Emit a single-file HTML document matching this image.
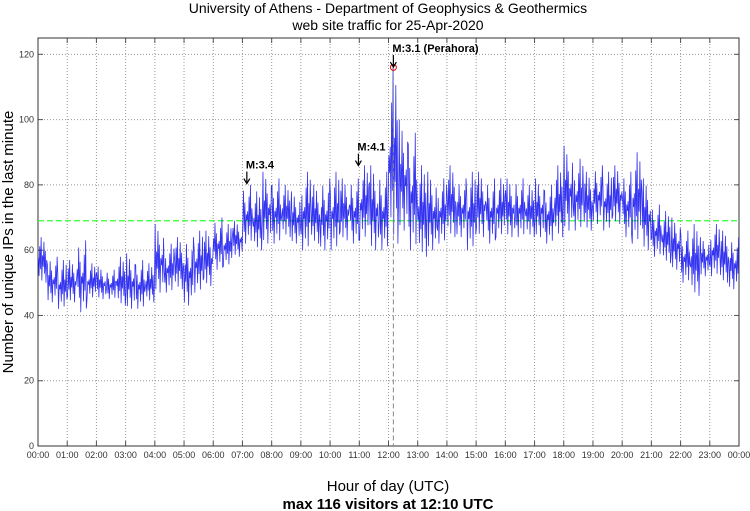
<!DOCTYPE html>
<html><head><meta charset="utf-8"><style>
body{margin:0;background:#fff;font-family:"Liberation Sans",sans-serif}
svg{display:block}
</style></head><body>
<svg id="chart" width="750" height="511" viewBox="0 0 750 511" xmlns="http://www.w3.org/2000/svg">
<text x="388" y="13" font-size="14" text-anchor="middle" font-family="Liberation Sans, sans-serif">University of Athens - Department of Geophysics &amp; Geothermics</text>
<text x="388" y="30" font-size="14" text-anchor="middle" font-family="Liberation Sans, sans-serif">web site traffic for 25-Apr-2020</text>
<text x="388" y="491" font-size="15" text-anchor="middle" font-family="Liberation Sans, sans-serif">Hour of day (UTC)</text>
<text x="388" y="509" font-size="15" font-weight="bold" text-anchor="middle" font-family="Liberation Sans, sans-serif">max 116 visitors at 12:10 UTC</text>
<text transform="translate(13,242) rotate(-90)" font-size="15" text-anchor="middle" font-family="Liberation Sans, sans-serif">Number of unique IPs in the last minute</text>
<g id="grid"></g><g id="series"></g><g id="annot"></g>
</svg>
<script>
const yTicks=[0,20,40,60,80,100,120];
const hourLabels=["00:00","01:00","02:00","03:00","04:00","05:00","06:00","07:00","08:00","09:00","10:00","11:00","12:00","13:00","14:00","15:00","16:00","17:00","18:00","19:00","20:00","21:00","22:00","23:00","00:00"];
// 20-minute buckets: high and low values
const bucketHigh=[64,58,57,57,63,56,55,54,58,59,57,56,68,62,64,64,66,66,70,68,69,80,78,84,82,80,78,84,80,82,84,82,82,86,86,84,116,100,96,86,84,82,86,82,84,84,82,82,82,82,80,82,80,86,92,88,84,86,84,86,84,90,82,74,72,70,66,68,64,68,66,64];
const bucketLow=[50,44,42,44,41,45,45,45,43,42,42,44,47,47,48,43,47,49,54,55,58,62,60,62,62,64,62,60,62,60,60,63,62,63,60,60,62,66,60,58,60,62,64,64,60,64,62,64,64,64,64,64,62,64,66,66,66,68,66,68,64,62,60,58,56,54,50,46,52,52,50,48];
const meanValue=69;
const peakValue=116, peakHour=12+10/60;
const events=[{label:"M:3.4",hour:7.15,labelY:85},{label:"M:4.1",hour:10.97,labelY:90.5},{label:"M:3.1 (Perahora)",hour:peakHour,labelY:120.7}];
const X0=38,X1=739,Y0=446,YMAX=125,YT=38;
const xs=h=>X0+h/24*(X1-X0);
const ys=v=>Y0-v/YMAX*(Y0-YT);
const NS="http://www.w3.org/2000/svg";
function mk(tag,attrs,parent){const e=document.createElementNS(NS,tag);for(const k in attrs)e.setAttribute(k,attrs[k]);parent.appendChild(e);return e;}
const grid=document.getElementById('grid'),series=document.getElementById('series'),annot=document.getElementById('annot');
yTicks.forEach(v=>{
 if(v>0&&v<YMAX){const l=mk('line',{x1:X0,x2:X1,y1:ys(v),y2:ys(v),stroke:'#999','stroke-dasharray':'1,2','stroke-width':1},grid);
 }
 mk('line',{x1:X0,x2:X0+5,y1:ys(v),y2:ys(v),stroke:'#555'},grid);
 mk('line',{x1:X1-5,x2:X1,y1:ys(v),y2:ys(v),stroke:'#555'},grid);
 const t=mk('text',{x:X0-4,y:ys(v)+3,'font-size':9,'text-anchor':'end',fill:'#333'},grid);t.textContent=v;
 
});
hourLabels.forEach((lab,i)=>{
 const x=xs(i);
 if(i>0&&i<24){const l=mk('line',{x1:x,x2:x,y1:YT,y2:Y0,stroke:'#999','stroke-dasharray':'1,2'},grid);
 }
 mk('line',{x1:x,x2:x,y1:Y0-5,y2:Y0,stroke:'#555'},grid);
 mk('line',{x1:x,x2:x,y1:YT,y2:YT+5,stroke:'#555'},grid);
 const t=mk('text',{x:x,y:Y0+12,'font-size':9,'text-anchor':'middle',fill:'#333'},grid);t.textContent=lab;
 
});
const frame=mk('rect',{x:X0,y:YT,width:X1-X0,height:Y0-YT,fill:'none',stroke:'#333'},grid);

const ml=mk('line',{x1:X0,x2:X1,y1:ys(meanValue),y2:ys(meanValue),stroke:'#33ff33','stroke-dasharray':'6,3','stroke-width':1.2},series);

const texture=[0.55,0.15,0.8,0.3,1.0,0.05,0.6,0.35,0.9,0.2,0.7,0.0,0.5,0.4];
let pts=[];const n=bucketHigh.length,bw=24/n,steps=texture.length;
for(let i=0;i<n;i++){
 for(let k=0;k<steps;k++){
  const h=i*bw+bw*(k+0.5)/steps;
  const f=texture[(k+i*5)%steps];
  const v=bucketLow[i]+f*(bucketHigh[i]-bucketLow[i]);
  pts.push(xs(h).toFixed(2)+','+ys(v).toFixed(1));
 }
}
const pl=mk('polyline',{points:pts.join(' '),fill:'none',stroke:'#0000ee','stroke-width':0.8,'stroke-opacity':0.8},series);

const vl=mk('line',{x1:xs(peakHour),x2:xs(peakHour),y1:ys(peakValue),y2:Y0,stroke:'#888','stroke-dasharray':'5,3'},annot);

const pc=mk('circle',{cx:xs(peakHour),cy:ys(peakValue),r:3,fill:'none',stroke:'#e00'},annot);

events.forEach(e=>{
 const x=xs(e.hour),y=ys(e.labelY);
 const t=mk('text',{x:x-1,y:y,'font-size':11,'font-weight':'bold'},annot);t.textContent=e.label;
 
 const g=mk('g',{},annot);
 
 
 mk('line',{x1:x,x2:x,y1:y+3,y2:y+14,stroke:'#000','stroke-width':1.2},g);
 mk('path',{d:`M${x-3},${y+10} L${x},${y+15} L${x+3},${y+10}`,fill:'none',stroke:'#000','stroke-width':1.2},g);
});
</script>
</body></html>
